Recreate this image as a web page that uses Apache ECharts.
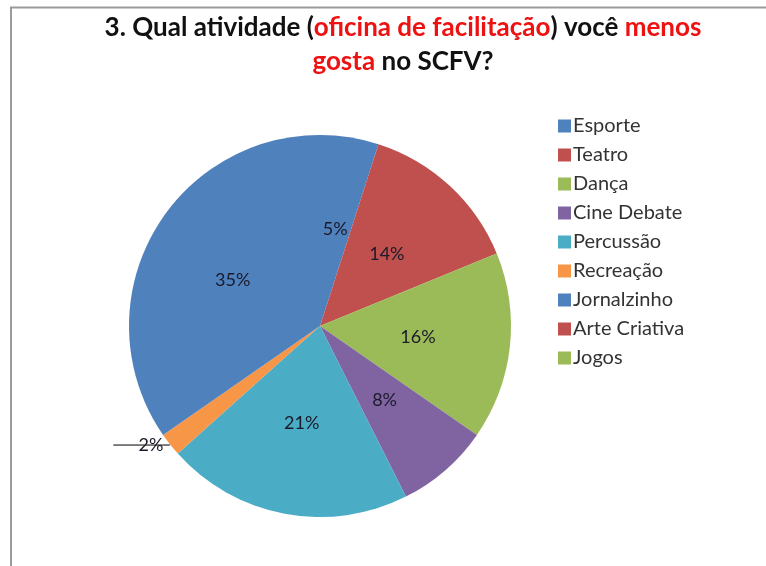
<!DOCTYPE html>
<html>
<head>
<meta charset="utf-8">
<script src="https://cdn.jsdelivr.net/npm/echarts@6/dist/echarts.min.js"></script>
<style>
  html, body { margin: 0; padding: 0; background: #fff; }
  #chart { width: 766px; height: 566px; }
</style>
</head>
<body>
<div id="chart"></div>
<script>
// Activities and the share (%) of answers for each
const categories = ['Esporte', 'Teatro', 'Dança', 'Cine Debate', 'Percussão', 'Recreação', 'Jornalzinho', 'Arte Criativa', 'Jogos'];
const shares = [5, 14, 16, 8, 21, 2, 35, 0, 0];
const colors = ['#4F81BD', '#C0504D', '#9BBB59', '#8064A2', '#4BACC6', '#F79646', '#4F81BD', '#C0504D', '#9BBB59'];

const FONT = 'Lato, "Open Sans", sans-serif';

const pieData = categories.map((name, i) => {
  const item = { name: name, value: shares[i], itemStyle: { color: colors[i] } };
  if (shares[i] === 0) {
    item.label = { show: false };
    item.labelLine = { show: false };
  }
  if (name === 'Recreação') {
    // small slice: label sits outside, its leader line running through the text
    item.label = { position: 'outside', distanceToLabelLine: -50 };
    item.labelLine = { show: true, length: 1, length2: 56, lineStyle: { color: '#000', width: 1 } };
  }
  return item;
});

const chart = echarts.init(document.getElementById('chart'), null, { renderer: 'canvas' });
chart.setOption({
  animation: false,
  backgroundColor: '#fff',
  graphic: [{
    type: 'polyline',
    shape: { points: [[11, 566], [11, 7.5], [766, 7.5]] },
    style: { stroke: '#9a9a9a', lineWidth: 2, fill: null },
    silent: true
  }],
  title: {
    left: 398,
    top: 6,
    textAlign: 'center',
    text: '{k|3. Qual atividade (}{r|oficina de facilitação}{k|) você }{r|menos}\n{r|gosta}{k| no SCFV?}',
    textStyle: {
      rich: {
        k: { color: '#111', fontFamily: FONT, fontWeight: 'bold', fontSize: 26, lineHeight: 34 },
        r: { color: '#ee1111', fontFamily: FONT, fontWeight: 'bold', fontSize: 26, lineHeight: 34 }
      }
    }
  },
  legend: {
    orient: 'vertical',
    left: 553,
    top: 111,
    itemWidth: 13,
    itemHeight: 13,
    itemGap: 9,
    icon: 'rect',
    data: categories,
    textStyle: { fontFamily: FONT, fontSize: 20, color: '#333', padding: [0, 0, 0, -3] }
  },
  series: [{
    type: 'pie',
    center: [320, 326],
    radius: [0, 191],
    startAngle: 90,
    clockwise: true,
    avoidLabelOverlap: false,
    minShowLabelAngle: 0,
    itemStyle: { borderWidth: 0 },
    label: {
      show: true,
      position: 'inside',
      formatter: '{c}%',
      fontFamily: FONT,
      fontSize: 18,
      color: '#1a1a2a'
    },
    labelLine: { show: false },
    data: pieData
  }]
});
</script>
</body>
</html>
